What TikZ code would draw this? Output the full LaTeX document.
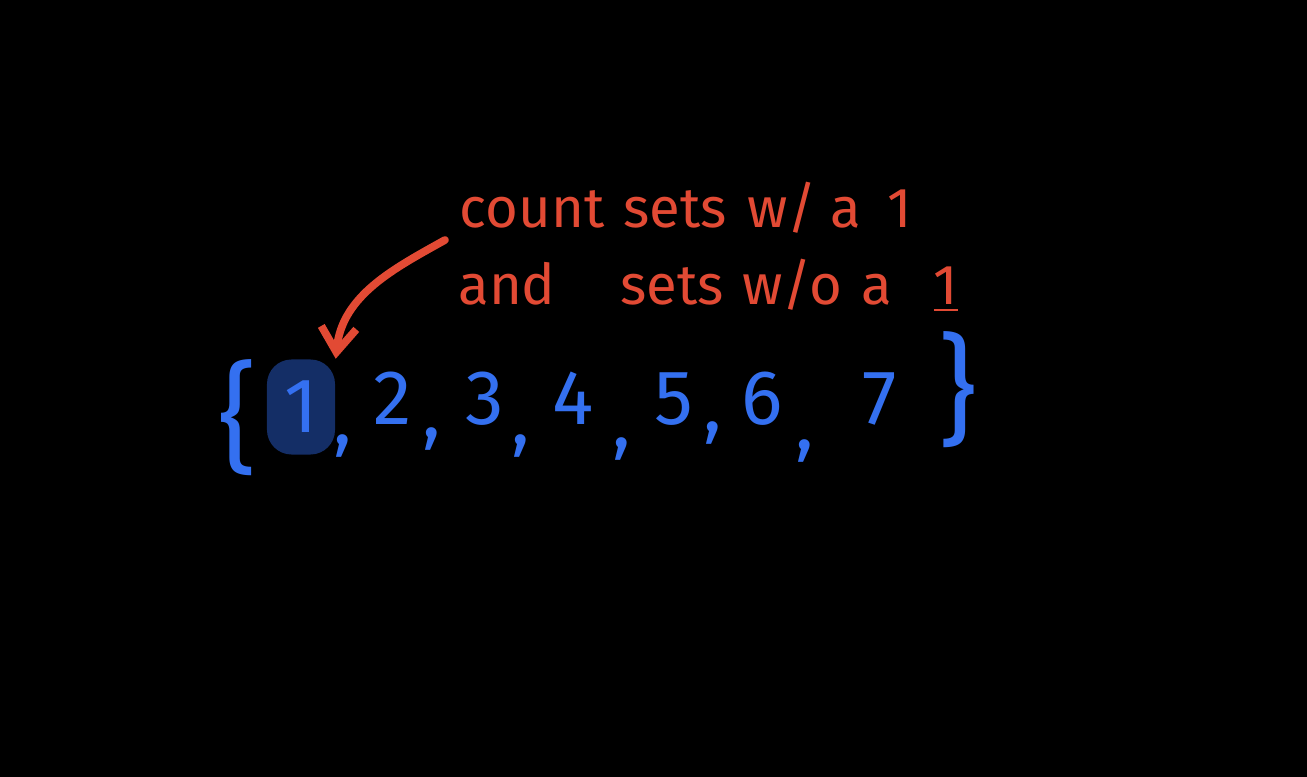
\documentclass[tikz,border=0pt]{standalone}
\usepackage{fontspec}
\setmainfont{Fira Sans}
\usetikzlibrary{arrows.meta,positioning}
\definecolor{inkred}{RGB}{226,74,52}
\definecolor{inkblue}{RGB}{52,112,240}
\definecolor{hlblue}{RGB}{20,46,102}
\tikzset{
  note/.style={text=inkred, anchor=base, inner sep=0pt, font=\fontsize{16}{19}\selectfont},
  elem/.style={text=inkblue, anchor=base, inner sep=0pt, font=\fontsize{22}{25}\selectfont},
  brace/.style={text=inkblue, inner sep=0pt, font=\fontsize{34}{38}\selectfont}
}

\begin{document}
\begin{tikzpicture}[x=0.01cm, y=-0.01cm, >=Stealth]
    \fill[black] (0,0) rectangle (1307,777);

    % the note
    \foreach \w/\x [count=\i] in {count/532, sets/675, {w/}/782, a/846, 1/900}
      \node[note] (top\i) at (\x, 228) {\w};
    \foreach \w/\x [count=\i] in {and/507, sets/672, {w/o}/792, a/877, {\underline{1}}/946}
      \node[note] (low\i) at (\x, 305) {\w};

    % the set
    \node[brace] (lbr) at (238, 418) {\{};
    \node[brace] (rbr) at (958, 390) {\}};
    \node[fill=hlblue, rounded corners=7pt, minimum width=0.68cm, minimum height=0.95cm,
          text=inkblue, font=\fontsize{22}{25}\selectfont] (n1) at (301, 407) {1};
    \foreach \d/\x [count=\i from 2] in {2/393, 3/485, 4/573, 5/674, 6/762, 7/880}
      \node[elem] (n\i) at (\x, 425) {\d};
    \foreach \x/\y in {343/445, 432/438, 521/445, 622/448, 713/432, 805/450}
      \node[elem] at (\x, \y) {,};

    % arrow to the 1
    \coordinate (tail) at (445, 240);
    \draw[-{Straight Barb[length=7pt, width=10pt]}, inkred, line width=2.2pt, line cap=round]
      (tail) .. controls (395, 268) and (342, 295) .. (n1.north east);
\end{tikzpicture}
\end{document}
